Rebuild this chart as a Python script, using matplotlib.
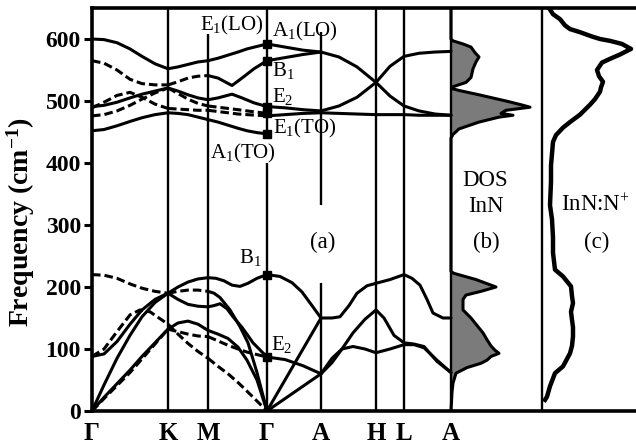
import matplotlib
matplotlib.use('Agg')
import matplotlib.pyplot as plt

plt.rcParams['font.family'] = ['Liberation Serif', 'DejaVu Serif']
plt.rcParams['mathtext.fontset'] = 'custom'
plt.rcParams['mathtext.rm'] = 'Liberation Serif'
plt.rcParams['mathtext.it'] = 'Liberation Serif:italic'
plt.rcParams['mathtext.bf'] = 'Liberation Serif:bold'

# ---------------- data ----------------
kpt_labels = ['Γ', 'K', 'M', 'Γ', 'A', 'H', 'L', 'A']
kpt_pos = [0, 76, 116, 175, 229, 284, 312, 359]
yticks = [0, 100, 200, 300, 400, 500, 600]

# Gamma-K
gk_x = [0, 12, 25, 38, 50, 63, 76]
gk_opt_s1 = [600, 599, 594, 584, 572, 560, 552]
gk_opt_d1 = [565, 561, 550, 535, 528, 526, 526]
gk_opt_s2 = [491, 493, 498, 505, 511, 516, 521]
gk_opt_d2 = [489, 498, 509, 514, 506, 495, 488]
gk_opt_d3 = [476, 478, 484, 493, 503, 513, 521]
gk_opt_s3 = [452, 454, 460, 467, 473, 478, 481]
gk_ac_b1d = [220, 219, 214, 205, 198, 193, 190]
gk_ac_e2s = [88, 92, 112, 140, 163, 180, 190]
gk_ac_la = [0, 42, 85, 122, 152, 175, 190]
gk_ac_ta = [0, 22, 44, 66, 88, 110, 132]
gk_ac_ta2 = [0, 20, 41, 62, 84, 108, 132]
gk_e2d_x = [0, 12, 25, 38, 48, 58, 67, 76]
gk_ac_e2d = [88, 100, 128, 155, 163, 160, 150, 140]

# K-M
km_x = [76, 86, 96, 106, 116]
km_opt_s1 = [552, 555, 559, 563, 565]
km_opt_d1 = [526, 531, 537, 540, 541]
km_opt_s2 = [521, 516, 510, 505, 502]
km_opt_d3 = [521, 512, 503, 496, 492]
km_opt_d2 = [488, 487, 486, 485, 485]
km_opt_s3 = [481, 480, 478, 474, 470]
km_ac_la = [190, 200, 208, 213, 215]
km_ac_b1d = [190, 193, 195, 195, 193]
km_ac_e2s = [190, 180, 172, 169, 168]
km_ac_ta = [132, 142, 145, 140, 130]
km_ac_e2d = [140, 124, 109, 96, 85]
km_ac_ta2 = [132, 128, 124, 121, 120]

# M-Gamma
mg_x = [116, 126, 136, 146, 155, 165, 175]
mg_opt_s1 = [565, 569, 574, 579, 584, 588, 592]
mg_opt_d3 = [492, 490, 488, 486, 484, 482, 480]
mg_opt_d2 = [485, 483, 481, 479, 478, 477, 476]
mg_opt_s3 = [470, 466, 461, 456, 452, 449, 447]
mg_b1_x = [116, 126, 133, 140, 150, 162, 175]
mg_opt_b1 = [541, 537, 531, 525, 537, 552, 565]
mg_e2_x = [116, 126, 140, 150, 162, 175]
mg_opt_e2 = [502, 505, 511, 505, 497, 491]
mg_top_x = [116, 124, 132, 140, 148, 156, 165, 175]
mg_ac_top = [215, 214, 210, 203, 201, 206, 214, 220]
mg_mid_x = [116, 122, 128, 135, 141, 150, 161, 175]
mg_ac_mid = [168, 170, 173, 165, 152, 135, 110, 87]
mg_sc_x = [116, 122, 128, 138, 148, 156, 165, 175]
mg_ac_sc = [193, 190, 183, 163, 136, 110, 62, 0]
mg_ac_ta = [130, 124, 117, 103, 82, 50, 0]
mg_ac_e2d = [85, 72, 60, 46, 32, 16, 0]
mg_ac_ta2 = [120, 113, 106, 100, 95, 91, 87]

# Gamma-A
ga_x = [175, 193, 211, 229]
ga_opt_u1 = [592, 587, 582, 579]
ga_opt_u2 = [565, 570, 575, 579]
ga_opt_l1 = [491, 489, 486, 484]
ga_opt_l2 = [476, 478, 480, 481]
ga_b1_x = [175, 188, 200, 210, 220, 229]
ga_ac_b1 = [220, 217, 207, 192, 170, 150]
ga_ac_la = [0, 50, 100, 150]
ga_ac_e2 = [87, 83, 73, 60]
ga_ac_ta = [0, 20, 40, 60]

# A-H-L-A
ahla_x = [229, 247, 265, 284, 298, 312, 327, 343, 359]
ahla_opt_desc = [579, 571, 555, 530, 508, 492, 484, 479, 477]
ahla_opt_asc = [484, 492, 506, 530, 556, 572, 577, 579, 580]
ahla_opt_flat = [481, 480, 479, 478, 478, 478, 477, 477, 477]
ahla_top_x = [229, 240, 248, 257, 265, 275, 284, 298, 312, 320, 328, 335, 341, 351, 359]
ahla_ac_top = [150, 150, 152, 170, 190, 202, 206, 212, 220, 214, 203, 180, 158, 150, 150]
ahla_pk_x = [229, 240, 250, 261, 273, 284, 292, 302, 312, 322, 332, 345, 359]
ahla_ac_peak = [60, 78, 100, 126, 148, 163, 150, 122, 110, 108, 104, 80, 62]
ahla_fl_x = [229, 240, 250, 261, 273, 284, 298, 312, 322, 332, 345, 359]
ahla_ac_flat = [60, 85, 100, 104, 100, 94, 100, 107, 107, 102, 82, 62]

# Gamma-point mode markers
gamma_modes = [592, 565, 491, 480, 447, 220, 87]

# DOS (panel b)
dos_f = [0, 15, 30, 45, 61, 70, 77, 82, 88, 93, 98, 105, 115, 126, 138, 150, 163,
         170, 180, 187, 193, 200, 212, 222, 225,
         440, 446, 455, 466, 474, 477, 480, 485, 490, 494, 500, 510, 517, 520, 523,
         530, 538, 552, 563, 571, 578, 587, 592, 597, 600, 650]
dos_v = [0, 0.5, 1, 2, 5, 16, 30, 36, 40, 48, 44, 40, 36, 32, 26, 20, 12,
         12, 12, 15, 30, 45, 25, 3, 0,
         0, 2, 8, 28, 48, 62, 50, 55, 79, 70, 55, 28, 8, 1, 2,
         15, 20, 22, 25, 28, 24, 20, 12, 2, 0, 0]

# InN:N+ spectrum (panel c)
c_f = [650, 640, 632, 622, 616, 611, 604, 600, 597, 592, 584, 575, 568, 562, 550,
       540, 531, 522, 515, 503, 494, 478, 466, 457, 445, 434, 415, 396, 370, 332,
       309, 280, 255, 228, 217, 201, 185, 174, 160, 147, 135, 120, 105, 93, 72,
       61, 40, 23, 18]
c_v = [7, 11, 18, 23, 28, 38, 50, 58, 68, 80, 89, 78, 68, 60, 55,
       57, 61, 59, 58, 53, 48, 38, 28, 21, 14, 11, 10, 9, 9, 8,
       10, 11, 11, 13, 21, 29, 30, 31, 29, 30, 31, 31, 30, 28, 21,
       13, 8, 5, 3]

# ---------------- plot ----------------
fig = plt.figure(figsize=(6.36, 4.47), dpi=100)
ax = fig.add_axes([92 / 636, 1 - 411 / 447, 1 - 92 / 636, (411 - 8) / 447])
ax.set_xlim(0, 544)
ax.set_ylim(0, 650)

LW = 2.2
DASH = (0, (2.8, 1.3))
solid = dict(color='k', lw=LW, solid_capstyle='round', zorder=3)
dashed = dict(color='k', lw=LW, ls=DASH, zorder=3)

solid_lines = [
    (gk_x, gk_opt_s1), (gk_x, gk_opt_s2), (gk_x, gk_opt_s3),
    (gk_x, gk_ac_e2s), (gk_x, gk_ac_la), (gk_x, gk_ac_ta),
    (km_x, km_opt_s1), (km_x, km_opt_s2), (km_x, km_opt_s3),
    (km_x, km_ac_la), (km_x, km_ac_e2s), (km_x, km_ac_ta),
    (mg_x, mg_opt_s1), (mg_x, mg_opt_s3), (mg_b1_x, mg_opt_b1), (mg_e2_x, mg_opt_e2),
    (mg_top_x, mg_ac_top), (mg_mid_x, mg_ac_mid), (mg_sc_x, mg_ac_sc), (mg_x, mg_ac_ta),
    (ga_x, ga_opt_u1), (ga_x, ga_opt_u2), (ga_x, ga_opt_l1), (ga_x, ga_opt_l2),
    (ga_b1_x, ga_ac_b1), (ga_x, ga_ac_la), (ga_x, ga_ac_e2), (ga_x, ga_ac_ta),
    (ahla_x, ahla_opt_desc), (ahla_x, ahla_opt_asc), (ahla_x, ahla_opt_flat),
    (ahla_top_x, ahla_ac_top), (ahla_pk_x, ahla_ac_peak), (ahla_fl_x, ahla_ac_flat),
]
dashed_lines = [
    (gk_x, gk_opt_d1), (gk_x, gk_opt_d2), (gk_x, gk_opt_d3),
    (gk_x, gk_ac_b1d), (gk_x, gk_ac_ta2), (gk_e2d_x, gk_ac_e2d),
    (km_x, km_opt_d1), (km_x, km_opt_d2), (km_x, km_opt_d3),
    (km_x, km_ac_b1d), (km_x, km_ac_e2d), (km_x, km_ac_ta2),
    (mg_x, mg_opt_d3), (mg_x, mg_opt_d2), (mg_x, mg_ac_e2d), (mg_x, mg_ac_ta2),
]
for xs, ys in solid_lines:
    ax.plot(xs, ys, **solid)
for xs, ys in dashed_lines:
    ax.plot(xs, ys, **dashed)

# vertical high-symmetry lines (some interrupted by labels)
vl_x = [76, 116, 175, 175, 229, 229, 284, 312, 359, 450]
vl_lo = [0, 0, 0, 443, 0, 333, 0, 0, 0, 0]
vl_hi = [650, 608, 400, 650, 207, 612, 650, 650, 650, 650]
ax.vlines(vl_x, vl_lo, vl_hi, colors='k', lw=1.7, zorder=2)

# Gamma markers
ax.plot([kpt_pos[3]] * len(gamma_modes), gamma_modes, ls='none', marker='s',
        ms=5.5, color='k', zorder=4)

# DOS panel
base_b = kpt_pos[-1]
ax.fill_betweenx(dos_f, base_b, [base_b + v for v in dos_v], color='#7b7b7b', lw=0, zorder=1)
ax.plot([base_b + v for v in dos_v], dos_f, color='k', lw=2.2, zorder=3)

# InN:N+ panel
base_c = 450
ax.plot([base_c + v for v in c_v], c_f, color='k', lw=3.2, zorder=3,
        solid_joinstyle='round')

# annotations
fs_ann = 15
ax.text(140, 621, r'E$_1$(LO)', fontsize=fs_ann, ha='center', va='center')
ax.text(180, 612, r'A$_1$(LO)', fontsize=fs_ann, ha='left', va='center')
ax.text(180, 549, r'B$_1$', fontsize=fs_ann, ha='left', va='center')
ax.text(180, 508, r'E$_2$', fontsize=fs_ann, ha='left', va='center')
ax.text(181, 456, r'E$_1$(TO)', fontsize=fs_ann, ha='left', va='center')
ax.text(151, 416, r'A$_1$(TO)', fontsize=fs_ann, ha='center', va='center')
ax.text(158, 248, r'B$_1$', fontsize=fs_ann, ha='center', va='center')
ax.text(190, 107, r'E$_2$', fontsize=fs_ann, ha='center', va='center')
fs_pan = 16.5
ax.text(231, 272, '(a)', fontsize=fs_pan, ha='center', va='center')
ax.text(394, 272, '(b)', fontsize=fs_pan, ha='center', va='center')
ax.text(505, 272, '(c)', fontsize=fs_pan, ha='center', va='center')
ax.text(393, 371, 'DOS', fontsize=fs_pan, ha='center', va='center')
ax.text(394, 330, 'InN', fontsize=fs_pan, ha='center', va='center')
ax.text(503, 332, r'InN:N$^{+}$', fontsize=fs_pan, ha='center', va='center')

# axes styling
ax.set_xticks(kpt_pos)
ax.set_xticklabels(kpt_labels, fontsize=18, fontweight='bold')
ax.tick_params(axis='x', length=0, pad=8)
ax.set_yticks(yticks)
ax.set_yticklabels([str(v) for v in yticks], fontsize=17, fontweight='bold')
ax.tick_params(axis='y', direction='out', length=6, width=2.2, pad=2)
ax.set_ylabel(r'Frequency (cm$^{\mathbf{-1}}$)', fontsize=20, fontweight='bold')
ax.yaxis.set_label_coords(-0.101, 0.469)
for side in ['left', 'bottom', 'top']:
    ax.spines[side].set_linewidth(2.6)
ax.spines['right'].set_visible(False)

fig.savefig('out.png', dpi=100)
